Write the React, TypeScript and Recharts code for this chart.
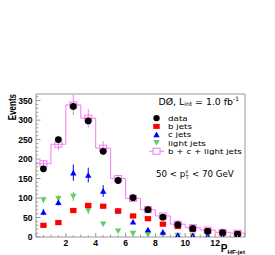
import React from 'react';
import { ComposedChart, XAxis, YAxis, Line, Scatter, ErrorBar, Legend } from 'recharts';

const binCenters = [0.5, 1.5, 2.5, 3.5, 4.5, 5.5, 6.5, 7.5, 8.5, 9.5, 10.5, 11.5, 12.5, 13.5];
const binEdges = [0, 1, 2, 3, 4, 5, 6, 7, 8, 9, 10, 11, 12, 13, 14];
const dataVals = [175, 250, 335, 298, 220, 145, 101, 70, 51, 32, 22, 15, 11, 7];
const dataErr = [5, 6, 7, 7, 6, 5, 4, 4, 3, 3, 2, 2, 2, 2];
const bJets = [30, 37, 68, 81, 79, 67, 54, 47, 33, 27, 19, 15, 11, 9];
const cJets = [64, 89, 165, 159, 118, 67, 39, 19, 13, 5, 4, 3, 2, 2];
const cErr = [8, 8, 21, 19, 15, 7, 5, 4, 3, 2, 2, 1, 1, 1];
const lightJets = [95, 98, 104, 68, 33, 15, 9, 6, 5, 4, 3, 3, 3, 2];
const lightErr = [8, 10, 12, 9, 5, 3, 2, 2, 1, 1, 1, 1, 1, 1];
const sumVals = [188, 238, 339, 305, 228, 150, 99, 70, 54, 33, 24, 18, 12, 10];
const sumErr = [9, 15, 26, 24, 18, 10, 7, 6, 5, 4, 3, 3, 2, 2];
const yTicks = [0, 10, 20, 30, 40, 50, 60, 70, 80, 90, 100, 110, 120, 130, 140, 150, 160, 170, 180, 190, 200, 210, 220, 230, 240, 250, 260, 270, 280, 290, 300, 310, 320, 330, 340, 350, 360];
const xTicks = [0, 0.5, 1, 1.5, 2, 2.5, 3, 3.5, 4, 4.5, 5, 5.5, 6, 6.5, 7, 7.5, 8, 8.5, 9, 9.5, 10, 10.5, 11, 11.5, 12, 12.5, 13, 13.5, 14];
const xLabelTicks = [2, 4, 6, 8, 10, 12];
const seriesNames = ['data', 'b jets', 'c jets', 'light jets', 'b + c + light jets'];

const FRAME = '#999999';
const RED = '#ff0000';
const BLUE = '#0000ff';
const GREEN = '#5fcf5f';
const MAGENTA = '#f27af2';
const BLACK = '#000000';

const rows = binCenters.map((x, i) => ({
  x,
  data: dataVals[i],
  dataErr: dataErr[i],
  b: bJets[i],
  c: cJets[i],
  cErr: cErr[i],
  light: lightJets[i],
  lightErr: lightErr[i],
  sum: sumVals[i],
  sumErr: sumErr[i],
}));

const stepRows = binEdges.map((x, i) => ({ x, step: sumVals[Math.min(i, sumVals.length - 1)] }));

const circleShape = (p: any) => <circle cx={p.cx} cy={p.cy} r={3.4} fill={BLACK} />;
const squareShape = (p: any) => <rect x={p.cx - 3.2} y={p.cy - 2.6} width={6.4} height={5.2} fill={RED} />;
const upTri = (p: any) => (
  <polygon points={`${p.cx - 3.2},${p.cy + 2.7} ${p.cx + 3.2},${p.cy + 2.7} ${p.cx},${p.cy - 2.9}`} fill={BLUE} />
);
const downTri = (p: any) => (
  <polygon points={`${p.cx - 3.2},${p.cy - 2.7} ${p.cx + 3.2},${p.cy - 2.7} ${p.cx},${p.cy + 2.9}`} fill={GREEN} />
);
const openSquare = (p: any) => (
  <rect x={p.cx - 3.5} y={p.cy - 3} width={7} height={6} fill="none" stroke={MAGENTA} strokeWidth={1} />
);

const XTick = (props: any) => {
  const { x, y, payload } = props;
  const v = payload.value;
  const major = Math.abs(v % 2) < 1e-6;
  const len = major ? 4 : Math.abs(v % 1) < 1e-6 ? 2.5 : 1.8;
  return (
    <g>
      <line x1={x} x2={x} y1={y} y2={y - len} stroke={FRAME} strokeWidth={1} />
      {xLabelTicks.includes(v) && (
        <text x={x} y={y + 8.5} textAnchor="middle" fontFamily="Liberation Sans, Arial, sans-serif" fontWeight="bold" fontSize={8.6} fill={BLACK}>
          {v}
        </text>
      )}
    </g>
  );
};

const YTick = (props: any) => {
  const { x, y, payload } = props;
  const v = payload.value;
  const major = v % 50 === 0;
  const len = major ? 4.5 : 2.2;
  return (
    <g>
      <line x1={x} x2={x + len} y1={y} y2={y} stroke={FRAME} strokeWidth={1} />
      {major && (
        <text x={x - 3.5} y={y + 3.2} textAnchor="end" fontFamily="Liberation Sans, Arial, sans-serif" fontWeight="bold" fontSize={8.6} fill={BLACK}>
          {v}
        </text>
      )}
    </g>
  );
};

const legendFont = 'DejaVu Sans, sans-serif';

const Overlay = () => {
  const mx = 156.5;
  const tx = 168;
  const baselines = [120.8, 129.1, 137.4, 145.7, 154];
  const markers = [
    <circle key="m0" cx={mx} cy={baselines[0] - 2.7} r={3.2} fill={BLACK} />,
    <rect key="m1" x={mx - 3.2} y={baselines[1] - 5.2} width={6.4} height={5} fill={RED} />,
    <polygon key="m2" points={`${mx - 3.2},${baselines[2] - 0.2} ${mx + 3.2},${baselines[2] - 0.2} ${mx},${baselines[2] - 5.8}`} fill={BLUE} />,
    <polygon key="m3" points={`${mx - 3.2},${baselines[3] - 5.6} ${mx + 3.2},${baselines[3] - 5.6} ${mx},${baselines[3] - 0.2}`} fill={GREEN} />,
    <g key="m4">
      <line x1={mx - 7.5} x2={mx + 7.5} y1={baselines[4] - 2.8} y2={baselines[4] - 2.8} stroke={MAGENTA} strokeWidth={1} />
      <rect x={mx - 3.5} y={baselines[4] - 5.8} width={7} height={6} fill="#ffffff" stroke={MAGENTA} strokeWidth={1} />
    </g>,
  ];
  return (
    <svg width={275} height={255} style={{ position: 'absolute', left: 0, top: 0, overflow: 'visible' }}>
      <text x={158.5} y={104.5} fontFamily={legendFont} fontSize={9.4} fill={BLACK}>
        DØ, L
        <tspan fontSize={6} dy={1.8}>int</tspan>
        <tspan dy={-1.8}> = 1.0 fb</tspan>
        <tspan fontSize={6} dy={-3.5}>-1</tspan>
      </text>
      {markers}
      {seriesNames.map((n, i) => (
        <g key={n} transform={`translate(${tx},${baselines[i]}) scale(1.15,1)`}>
          <text x={0} y={0} fontFamily={legendFont} fontSize={7.6} fill={BLACK}>
            {n}
          </text>
        </g>
      ))}
      <text x={156} y={176.5} fontFamily={legendFont} fontSize={8.7} fill={BLACK}>
        50 &lt; p
        <tspan fontSize={5.2} dy={2}>T</tspan>
        <tspan fontSize={5.2} dx={-3.3} dy={-6}>γ</tspan>
        <tspan dx={0.8} dy={4}> &lt; 70 GeV</tspan>
      </text>
      <text
        transform="translate(15.5,94) scale(1.35,1) rotate(-90)"
        textAnchor="end"
        fontFamily="Liberation Sans, Arial, sans-serif"
        fontWeight="bold"
        fontSize={8}
        fill={BLACK}
      >
        Events
      </text>
      <text x={245} y={252.3} textAnchor="end" fontFamily="Liberation Sans, Arial, sans-serif" fontWeight="bold" fontSize={10} fill={BLACK}>
        P
        <tspan fontSize={6.2} dy={1.8}>HF-jet</tspan>
      </text>
    </svg>
  );
};

export default function App() {
  return (
    <div style={{ position: 'absolute', left: 0, top: 0, width: 275, height: 255, background: '#ffffff' }}>
      <ComposedChart
        width={275}
        height={255}
        data={stepRows}
        margin={{ top: 93, right: 29, bottom: 17, left: 35 }}
      >
        <XAxis
          dataKey="x"
          type="number"
          domain={[0, 14]}
          allowDataOverflow
          ticks={xTicks}
          interval={0}
          tick={<XTick />}
          tickLine={false}
          tickSize={0}
          tickMargin={0}
          height={1}
          axisLine={{ stroke: FRAME }}
        />
        <XAxis xAxisId="top" orientation="top" type="number" domain={[0, 14]} tick={false} tickLine={false} height={1} axisLine={{ stroke: FRAME }} />
        <YAxis
          type="number"
          domain={[0, 367]}
          allowDataOverflow
          ticks={yTicks}
          interval={0}
          tick={<YTick />}
          tickLine={false}
          tickSize={0}
          tickMargin={0}
          width={1}
          axisLine={{ stroke: FRAME }}
        />
        <YAxis yAxisId="right" orientation="right" type="number" domain={[0, 367]} tick={false} tickLine={false} width={1} axisLine={{ stroke: FRAME }} />
        <Line dataKey="step" type="stepAfter" stroke={MAGENTA} strokeWidth={1} dot={false} isAnimationActive={false} name={seriesNames[4]} />
        <Scatter data={rows} dataKey="sum" shape={openSquare} isAnimationActive={false} name={seriesNames[4]}>
          <ErrorBar dataKey="sumErr" direction="y" width={0} stroke={MAGENTA} strokeWidth={1} />
        </Scatter>
        <Scatter data={rows} dataKey="light" shape={downTri} isAnimationActive={false} name={seriesNames[3]}>
          <ErrorBar dataKey="lightErr" direction="y" width={0} stroke={GREEN} strokeWidth={1} />
        </Scatter>
        <Scatter data={rows} dataKey="c" shape={upTri} isAnimationActive={false} name={seriesNames[2]}>
          <ErrorBar dataKey="cErr" direction="y" width={0} stroke={BLUE} strokeWidth={1} />
        </Scatter>
        <Scatter data={rows} dataKey="b" shape={squareShape} isAnimationActive={false} name={seriesNames[1]} />
        <Scatter data={rows} dataKey="data" shape={circleShape} isAnimationActive={false} name={seriesNames[0]}>
          <ErrorBar dataKey="dataErr" direction="y" width={0} stroke={BLACK} strokeWidth={1} />
        </Scatter>
        <Legend
          layout="horizontal"
          verticalAlign="middle"
          align="center"
          content={() => <Overlay />}
          wrapperStyle={{ position: 'absolute', left: 0, top: 0, width: 275, height: 255, margin: 0, pointerEvents: 'none' }}
        />
      </ComposedChart>
    </div>
  );
}
